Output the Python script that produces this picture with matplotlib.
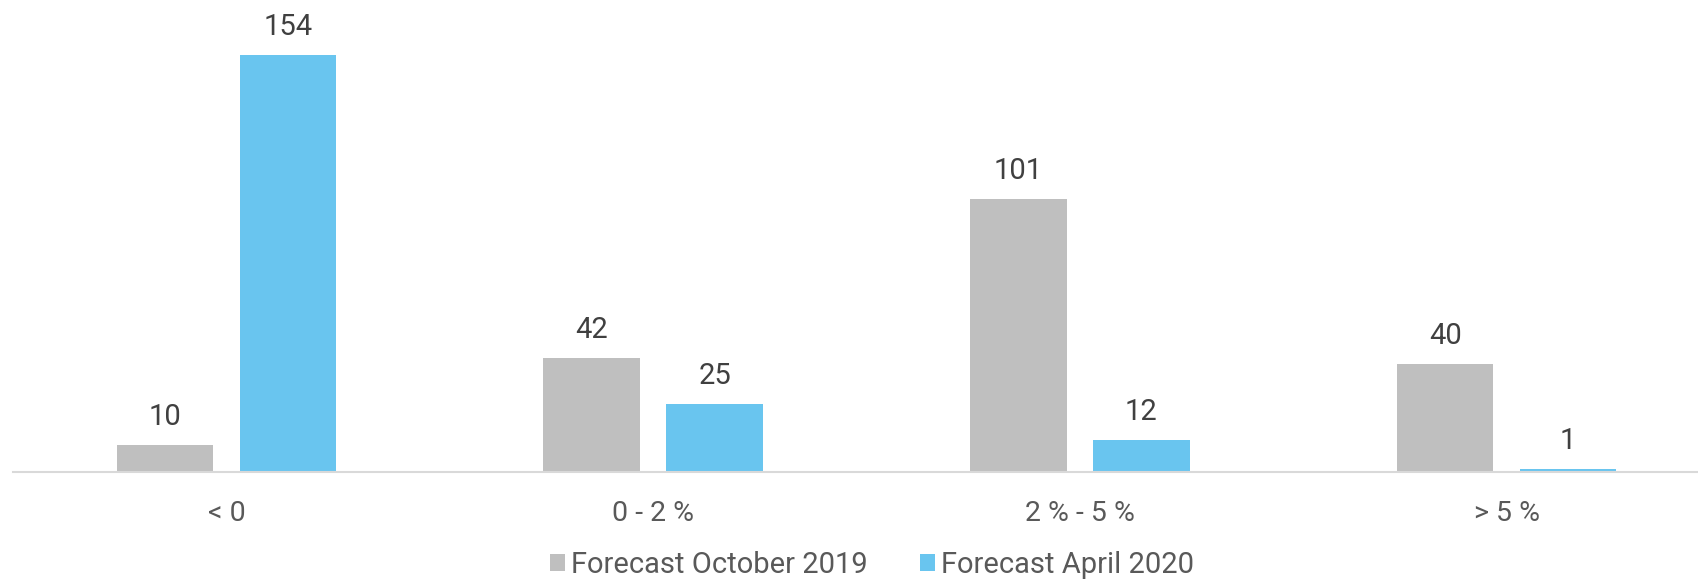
import matplotlib
matplotlib.use("Agg")
import matplotlib.pyplot as plt
import numpy as np

categories = ["< 0", "0 - 2 %", "2 % - 5 %", "> 5 %"]
oct_2019 = [10, 42, 101, 40]
apr_2020 = [154, 25, 12, 1]
series_names = ["Forecast October 2019", "Forecast April 2020"]

plt.rcParams['font.family'] = ['Roboto', 'DejaVu Sans']

W, H = 1698, 579
fig = plt.figure(figsize=(W / 100, H / 100), dpi=100)
ax_left, ax_right = 13 / W, 1720 / W
ax_bottom = (H - 472) / H
ymax = 160
px_per_unit = (472 - 55) / 154
ax_top = 1 - (472 - ymax * px_per_unit) / H
ax = fig.add_axes([ax_left, ax_bottom, ax_right - ax_left, ax_top - ax_bottom])

x = np.arange(len(categories))
bw = 0.226
off = 0.144
b1 = ax.bar(x - off, oct_2019, bw, color="#bfbfbf", label=series_names[0])
b2 = ax.bar(x + off, apr_2020, bw, color="#69c5ef", label=series_names[1])

for bars, vals in ((b1, oct_2019), (b2, apr_2020)):
    for r, v in zip(bars, vals):
        ax.annotate(str(v), (r.get_x() + r.get_width() / 2, r.get_height()),
                    xytext=(0, 10), textcoords="offset points", ha="center",
                    va="bottom", fontsize=21, color="#404040")

ax.set_xlim(-0.5, len(categories) - 0.5)
ax.set_ylim(0, ymax)
ax.set_xticks(x)
ax.set_xticklabels(categories, fontsize=20.5, color="#595959")
ax.tick_params(axis="x", length=0, pad=20)
ax.set_yticks([])
for s in ["top", "right", "left"]:
    ax.spines[s].set_visible(False)
ax.spines["bottom"].set_color("#d9d9d9")
ax.spines["bottom"].set_linewidth(1.5)

fig.legend(handles=[b1, b2], labels=series_names, loc="center",
           bbox_to_anchor=(872 / W, 14 / H), ncol=2, frameon=False,
           fontsize=21, labelcolor="#595959", handlelength=0.52,
           handleheight=0.52, handletextpad=0.2, columnspacing=1.8)

fig.savefig("out.png", dpi=100)
